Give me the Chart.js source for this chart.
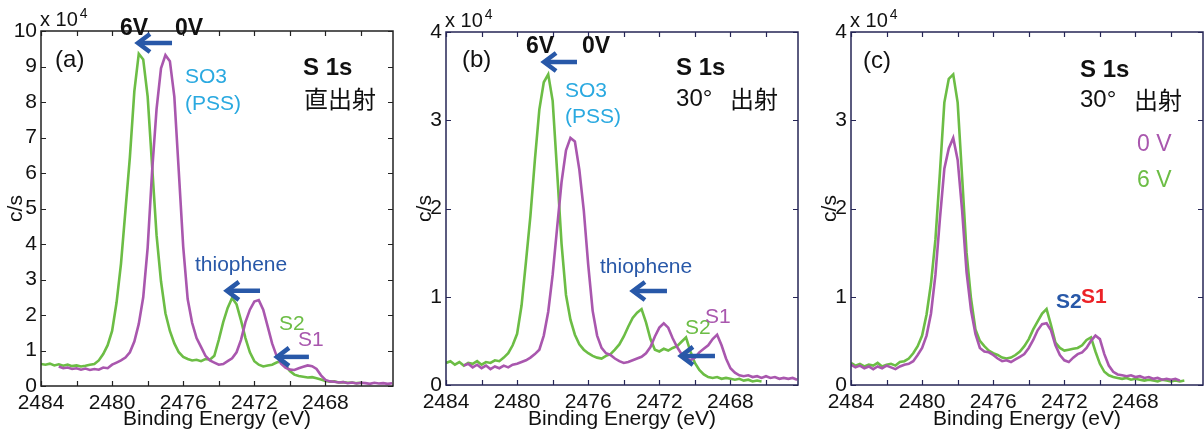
<!DOCTYPE html>
<html>
<head>
<meta charset="utf-8">
<script src="https://cdn.jsdelivr.net/npm/chart.js@4.4.1/dist/chart.umd.min.js"></script>
<style>
  body { margin: 0; background: #fff; width: 1204px; height: 437px; overflow: hidden; position: relative; }
  canvas { position: absolute; top: 0; }
</style>
</head>
<body>
<canvas id="panelA" width="405" height="437" style="left:0px"></canvas>
<canvas id="panelB" width="405" height="437" style="left:405px"></canvas>
<canvas id="panelC" width="394" height="437" style="left:810px"></canvas>
<script>
// binding energy grid (eV), 2484 -> 2464.25 in 0.25 steps
const energies = Array.from({ length: 80 }, (_, i) => 2484 - i * 0.25);

// tick positions on the energy axis; only multiples of 4 get a label
const energyTicks = [2484, 2482, 2480, 2478, 2476, 2474, 2472, 2470, 2468, 2466];

// counts, x 10^4 c/s (null = no data at that energy)
// (a) normal emission
const countsA0V = [
  null, null, null, null, 0.55, 0.50, 0.52, 0.48,
  0.50, 0.46, 0.49, 0.45, 0.48, 0.46, 0.52, 0.50,
  0.60, 0.66, 0.72, 0.80, 0.95, 1.25, 1.75, 2.50,
  3.90, 6.05, 7.80, 8.95, 9.32, 9.15, 8.15, 6.05,
  3.92, 2.45, 1.78, 1.35, 1.10, 0.85, 0.72, 0.66,
  0.60, 0.62, 0.70, 0.78, 0.95, 1.30, 1.80, 2.15,
  2.38, 2.42, 2.15, 1.68, 1.20, 0.85, 0.63, 0.52,
  0.46, 0.45, 0.50, 0.54, 0.58, 0.56, 0.48, 0.30,
  0.17, 0.13, 0.12, 0.10, 0.11, 0.08, 0.10, 0.07,
  0.09, 0.08, 0.06, 0.09, 0.07, 0.08, 0.06, 0.08
];
const countsA6V = [
  0.62, 0.60, 0.63, 0.58, 0.61, 0.57, 0.60, 0.56,
  0.58, 0.55, 0.57, 0.60, 0.62, 0.72, 0.90, 1.15,
  1.55, 2.35, 3.45, 4.95, 6.45, 8.30, 9.36, 9.20,
  8.15, 6.20, 4.25, 2.95, 2.05, 1.55, 1.20, 0.95,
  0.82, 0.76, 0.72, 0.74, 0.70, 0.76, 0.74, 0.85,
  1.30, 1.80, 2.20, 2.48, 2.30, 1.85, 1.35, 0.95,
  0.70, 0.60, 0.55, 0.58, 0.60, 0.66, 0.70, 0.58,
  0.42, 0.32, 0.28, 0.26, 0.24, 0.25, 0.22, 0.18,
  0.14, 0.12, 0.13, 0.10, 0.11, 0.09, 0.10, 0.08,
  0.09, null, null, null, null, null, null, null
];
// (b) 30 deg emission
const countsB0V = [
  null, null, null, null, 0.22, 0.24, 0.20, 0.23,
  0.19, 0.22, 0.18, 0.21, 0.19, 0.22, 0.20, 0.23,
  0.24, 0.26, 0.28, 0.31, 0.35, 0.40, 0.56, 0.83,
  1.25, 1.78, 2.30, 2.66, 2.80, 2.76, 2.44, 1.98,
  1.36, 0.84, 0.56, 0.42, 0.36, 0.34, 0.30, 0.27,
  0.25, 0.26, 0.28, 0.30, 0.32, 0.36, 0.43, 0.55,
  0.65, 0.70, 0.65, 0.53, 0.43, 0.35, 0.30, 0.28,
  0.31, 0.37, 0.41, 0.45, 0.52, 0.57, 0.45, 0.30,
  0.19, 0.14, 0.11, 0.10, 0.11, 0.09, 0.10, 0.08,
  0.10, 0.08, 0.09, 0.07, 0.08, 0.07, 0.08, 0.06
];
const countsB6V = [
  0.25, 0.27, 0.23, 0.26, 0.22, 0.25, 0.24, 0.27,
  0.23, 0.26, 0.25, 0.28, 0.27, 0.31, 0.36, 0.45,
  0.58, 0.90, 1.40, 1.92, 2.55, 3.12, 3.43, 3.52,
  3.22, 2.42, 1.60, 1.02, 0.74, 0.57, 0.46, 0.40,
  0.36, 0.33, 0.31, 0.30, 0.33, 0.35, 0.40, 0.46,
  0.55, 0.66, 0.76, 0.82, 0.86, 0.71, 0.52, 0.40,
  0.38, 0.41, 0.39, 0.42, 0.44, 0.49, 0.54, 0.38,
  0.25, 0.17, 0.12, 0.09, 0.08, 0.09, 0.07, 0.08,
  0.07, 0.06, 0.07, 0.05, 0.06, 0.04, 0.05, 0.04,
  null, null, null, null, null, null, null, null
];
// (c) 30 deg emission, 0 V aligned
const countsC0V = [
  0.23, 0.20, 0.22, 0.19, 0.21, 0.18, 0.21, 0.19,
  0.22, 0.20, 0.18, 0.21, 0.23, 0.24, 0.27, 0.34,
  0.42, 0.56, 0.81, 1.25, 1.88, 2.45, 2.68, 2.80,
  2.55, 1.98, 1.28, 0.85, 0.58, 0.42, 0.38, 0.37,
  0.34, 0.30, 0.27, 0.28, 0.26, 0.29, 0.32, 0.35,
  0.42, 0.51, 0.62, 0.69, 0.70, 0.62, 0.45, 0.34,
  0.28, 0.26, 0.31, 0.35, 0.37, 0.42, 0.50, 0.56,
  0.52, 0.35, 0.22, 0.15, 0.12, 0.11, 0.10, 0.11,
  0.09, 0.10, 0.08, 0.09, 0.07, 0.08, 0.06, 0.07,
  0.06, 0.07, 0.05, null, null, null, null, null
];
const countsC6V = [
  0.25, 0.22, 0.24, 0.21, 0.23, 0.22, 0.25, 0.21,
  0.23, 0.24, 0.22, 0.26, 0.27, 0.30, 0.36, 0.44,
  0.56, 0.80, 1.15, 1.65, 2.40, 3.20, 3.47, 3.52,
  3.20, 2.36, 1.50, 0.98, 0.63, 0.50, 0.44, 0.39,
  0.36, 0.34, 0.31, 0.30, 0.31, 0.34, 0.38, 0.44,
  0.52, 0.63, 0.72, 0.81, 0.86, 0.68, 0.48, 0.42,
  0.39, 0.40, 0.41, 0.42, 0.45, 0.51, 0.54, 0.38,
  0.24, 0.15, 0.11, 0.09, 0.08, 0.07, 0.08, 0.06,
  0.07, 0.06, 0.05, 0.06, 0.05, 0.04, 0.06, 0.05,
  0.04, 0.05, 0.04, 0.05, null, null, null, null
];

const GREEN = '#6cbd45';
const MAGENTA = '#a957ae';
const CYAN = '#2aa9e0';
const BLUE = '#2858a8';
const RED = '#ec2227';
const SANS = "'Liberation Sans', Arial, sans-serif";
const CJK = "'Noto Sans CJK JP', sans-serif";

Chart.defaults.font.family = SANS;
Chart.defaults.color = '#111';

function toPoints(arr) {
  return energies.map((e, i) => ({ x: e, y: arr[i] })).filter(p => p.y !== null);
}

// text labels and arrows, anchored in data coordinates (energy, counts)
const notesA = [
  { t: '(a)', e: 2483.21, v: 9.18, size: 24 },
  { t: '6V', e: 2479.56, v: 10.08, size: 23, bold: true },
  { t: '0V', e: 2476.46, v: 10.08, size: 23, bold: true },
  { t: 'SO3', e: 2475.9, v: 8.70, size: 21, color: CYAN },
  { t: '(PSS)', e: 2475.9, v: 7.94, size: 21, color: CYAN },
  { t: 'S 1s', e: 2469.26, v: 8.96, size: 24, bold: true },
  { t: '直出射', e: 2469.2, v: 8.08, size: 24, cjk: true },
  { t: 'thiophene', e: 2475.34, v: 3.41, size: 21, color: BLUE },
  { t: 'S2', e: 2470.61, v: 1.75, size: 21, color: GREEN },
  { t: 'S1', e: 2469.55, v: 1.30, size: 21, color: MAGENTA }
];
const arrowsA = [
  [2476.63, 9.66, 2478.6, 9.66],
  [2471.68, 2.68, 2473.6, 2.68],
  [2468.93, 0.82, 2470.78, 0.82]
];
const notesB = [
  { t: '(b)', e: 2483.1, v: 3.68, size: 24 },
  { t: '6V', e: 2479.5, v: 3.83, size: 23, bold: true },
  { t: '0V', e: 2476.35, v: 3.83, size: 23, bold: true },
  { t: 'SO3', e: 2477.31, v: 3.33, size: 21, color: CYAN },
  { t: '(PSS)', e: 2477.31, v: 3.04, size: 21, color: CYAN },
  { t: 'S 1s', e: 2471.06, v: 3.59, size: 24, bold: true },
  { t: '30°', e: 2471.06, v: 3.24, size: 24 },
  { t: '出射', e: 2468.03, v: 3.24, size: 24, cjk: true },
  { t: 'thiophene', e: 2475.34, v: 1.34, size: 21, color: BLUE },
  { t: 'S2', e: 2470.56, v: 0.646, size: 21, color: GREEN },
  { t: 'S1', e: 2469.43, v: 0.77, size: 21, color: MAGENTA }
];
const arrowsB = [
  [2476.63, 3.66, 2478.54, 3.66],
  [2471.57, 1.065, 2473.54, 1.065],
  [2468.87, 0.33, 2470.84, 0.33]
];
const notesC = [
  { t: '(c)', e: 2483.33, v: 3.67, size: 24 },
  { t: 'S 1s', e: 2471.12, v: 3.56, size: 24, bold: true },
  { t: '30°', e: 2471.12, v: 3.23, size: 24 },
  { t: '出射', e: 2468.08, v: 3.23, size: 24, cjk: true },
  { t: '0 V', e: 2467.91, v: 2.72, size: 23, color: MAGENTA },
  { t: '6 V', e: 2467.91, v: 2.32, size: 23, color: GREEN },
  { t: 'S2', e: 2472.47, v: 0.94, size: 21, color: BLUE, bold: true },
  { t: 'S1', e: 2471.06, v: 1.0, size: 21, color: RED, bold: true }
];

function makeDecor(notes, arrows, frameColor) {
  return {
    id: 'decor',
    afterDraw(chart) {
      const { ctx, chartArea: a, scales: { x, y } } = chart;
      ctx.save();
      // inward tick marks on all four sides
      ctx.strokeStyle = frameColor;
      ctx.lineWidth = 1.2;
      ctx.beginPath();
      x.ticks.forEach(t => {
        const px = Math.round(x.getPixelForValue(t.value)) + 0.5;
        ctx.moveTo(px, a.bottom); ctx.lineTo(px, a.bottom - 5);
        ctx.moveTo(px, a.top); ctx.lineTo(px, a.top + 5);
      });
      y.ticks.forEach(t => {
        const py = Math.round(y.getPixelForValue(t.value)) + 0.5;
        ctx.moveTo(a.left, py); ctx.lineTo(a.left + 5, py);
        ctx.moveTo(a.right, py); ctx.lineTo(a.right - 5, py);
      });
      ctx.stroke();
      ctx.lineWidth = 1.5;
      ctx.strokeRect(a.left, a.top, a.right - a.left, a.bottom - a.top);

      // exponent label
      ctx.fillStyle = '#111';
      ctx.textBaseline = 'middle';
      ctx.textAlign = 'left';
      ctx.font = '20px ' + SANS;
      ctx.fillText('x 10', a.left - 1, a.top - 11);
      const w = ctx.measureText('x 10').width;
      ctx.font = '14px ' + SANS;
      ctx.fillText('4', a.left + w + 1, a.top - 17);

      notes.forEach(n => {
        ctx.font = (n.bold ? 'bold ' : '') + n.size + 'px ' + (n.cjk ? CJK : SANS);
        ctx.fillStyle = n.color || '#111';
        ctx.fillText(n.t, x.getPixelForValue(n.e), y.getPixelForValue(n.v));
      });

      ctx.strokeStyle = BLUE;
      ctx.lineWidth = 4.5;
      ctx.lineJoin = 'miter';
      arrows.forEach(([e1, v1, e2, v2]) => {
        const x1 = x.getPixelForValue(e1), y1 = y.getPixelForValue(v1);
        const x2 = x.getPixelForValue(e2), y2 = y.getPixelForValue(v2);
        ctx.beginPath();
        ctx.moveTo(x1, y1); ctx.lineTo(x2 + 3, y2);
        ctx.stroke();
        ctx.beginPath();
        ctx.moveTo(x2 + 13, y2 - 9); ctx.lineTo(x2 + 1, y2); ctx.lineTo(x2 + 13, y2 + 9);
        ctx.stroke();
      });
      ctx.restore();
    }
  };
}

function makePanel(id, series0V, series6V, yMax, layout, notes, arrows, frameColor) {
  return new Chart(document.getElementById(id), {
    type: 'line',
    data: {
      datasets: [
        { label: '0 V', data: toPoints(series0V), borderColor: MAGENTA, borderWidth: 2.6, pointRadius: 0, tension: 0 },
        { label: '6 V', data: toPoints(series6V), borderColor: GREEN, borderWidth: 2.6, pointRadius: 0, tension: 0 }
      ]
    },
    options: {
      responsive: false,
      animation: false,
      devicePixelRatio: 1,
      layout: { padding: { top: layout.top, right: layout.right, left: 0, bottom: 0 } },
      plugins: { legend: { display: false }, tooltip: { enabled: false } },
      scales: {
        x: {
          type: 'linear',
          reverse: true,
          bounds: 'data',
          min: 2464.2,
          max: 2484,
          grid: { display: false, drawTicks: false },
          border: { display: false },
          afterBuildTicks: s => { s.ticks = energyTicks.map(v => ({ value: v })); },
          ticks: {
            autoSkip: false,
            maxRotation: 0,
            padding: 5,
            color: '#111',
            font: { size: 21 },
            callback: v => (Math.round(v) % 4 === 0 ? String(Math.round(v)) : '')
          },
          title: { display: true, text: 'Binding Energy (eV)', color: '#111', font: { size: 21 }, padding: { top: 0, bottom: 5 } },
          afterFit: s => { s.height = layout.xHeight; }
        },
        y: {
          type: 'linear',
          bounds: 'data',
          min: 0,
          max: yMax,
          grid: { display: false, drawTicks: false },
          border: { display: false },
          ticks: { stepSize: 1, padding: 4, color: '#111', font: { size: 21 } },
          title: { display: true, text: 'c/s', color: '#111', font: { size: 21 }, padding: { top: layout.titlePad, bottom: 0 } },
          afterFit: s => { s.width = 41; }
        }
      }
    },
    plugins: [makeDecor(notes, arrows, frameColor)]
  });
}

makePanel('panelA', countsA0V, countsA6V, 10, { top: 31, right: 12, xHeight: 51, titlePad: 4 }, notesA, arrowsA, '#222');
makePanel('panelB', countsB0V, countsB6V, 4, { top: 32, right: 12, xHeight: 52, titlePad: 8 }, notesB, arrowsB, '#262656');
makePanel('panelC', countsC0V, countsC6V, 4, { top: 32, right: 1, xHeight: 52, titlePad: 8 }, notesC, [], '#262656');
</script>
</body>
</html>
